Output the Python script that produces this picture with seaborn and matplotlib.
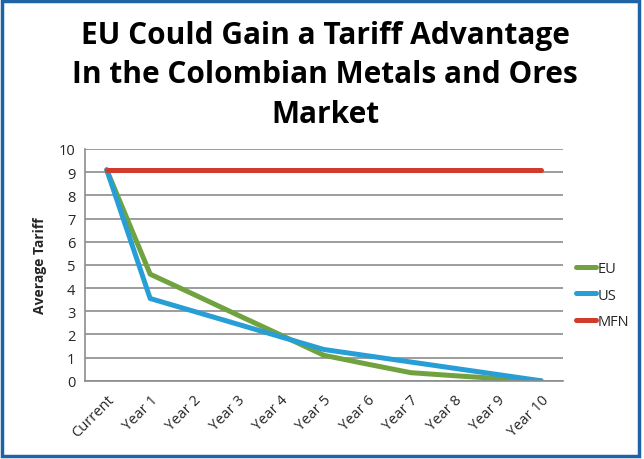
import numpy as np
import pandas as pd
import seaborn as sns
import matplotlib.pyplot as plt
from matplotlib.patches import Rectangle

sns.set_style("white")
plt.rcParams["font.family"] = ["Open Sans", "DejaVu Sans"]

# Data
periods = ["Current", "Year 1", "Year 2", "Year 3", "Year 4", "Year 5",
           "Year 6", "Year 7", "Year 8", "Year 9", "Year 10"]
eu = [9.1, 4.6, 3.73, 2.85, 1.98, 1.1, 0.72, 0.35, 0.22, 0.1, 0.0]
us = [9.1, 3.55, 3.0, 2.45, 1.9, 1.35, 1.08, 0.81, 0.54, 0.27, 0.0]
mfn = [9.1] * 11
series = ["EU", "US", "MFN"]
colors = ["#70a33f", "#279fd6", "#d13b2c"]

df = pd.DataFrame({
    "period": periods * 3,
    "tariff": eu + us + mfn,
    "series": np.repeat(series, len(periods)),
})

fig = plt.figure(figsize=(6.44, 4.60), dpi=100)
ax = fig.add_axes([0.132, 0.170, 0.742, 0.504])

sns.lineplot(data=df, x="period", y="tariff", hue="series", palette=colors,
             sort=False, linewidth=3.6, ax=ax)

ax.set_xlim(-0.5, len(periods) - 0.5)
ax.set_ylim(0, 10)
ax.set_yticks(range(0, 11))
ax.set_xticks(range(len(periods)))
ax.set_xticklabels(periods, rotation=45, ha="right", rotation_mode="anchor", fontsize=10.5)
ax.set_xticks(np.arange(-0.5, len(periods)), minor=True)
ax.tick_params(axis="x", which="major", length=0, pad=8)
ax.tick_params(axis="x", which="minor", length=5, color="#8c8c8c", width=1.2)
ax.tick_params(axis="y", length=5, color="#8c8c8c", width=1.2, labelsize=10.5, pad=2)
ax.grid(axis="y", color="#8c8c8c", linewidth=1.2)
ax.set_axisbelow(True)
for s in ["top", "right"]:
    ax.spines[s].set_visible(False)
for s in ["left", "bottom"]:
    ax.spines[s].set_color("#8c8c8c")
    ax.spines[s].set_linewidth(1.2)

ax.set_xlabel("")
ax.set_ylabel("Average Tariff", fontsize=10, fontweight="bold", labelpad=8)

leg = ax.legend(loc="center left", bbox_to_anchor=(1.0, 0.37), frameon=False,
                fontsize=10.5, handlelength=1.4, handletextpad=0.1, labelspacing=0.8)
for line in leg.get_lines():
    line.set_linewidth(3.6)

fig.text(0.505, 0.955, "EU Could Gain a Tariff Advantage\nIn the Colombian Metals and Ores\nMarket",
         ha="center", va="top", fontsize=21.5, fontweight="bold", linespacing=1.42,
         color="black")

fig.patches.append(Rectangle((0.003, 0.006), 0.99, 0.99, transform=fig.transFigure,
                             fill=False, edgecolor="#1d63a6", linewidth=2.5))

fig.savefig("out.png", dpi=100)
